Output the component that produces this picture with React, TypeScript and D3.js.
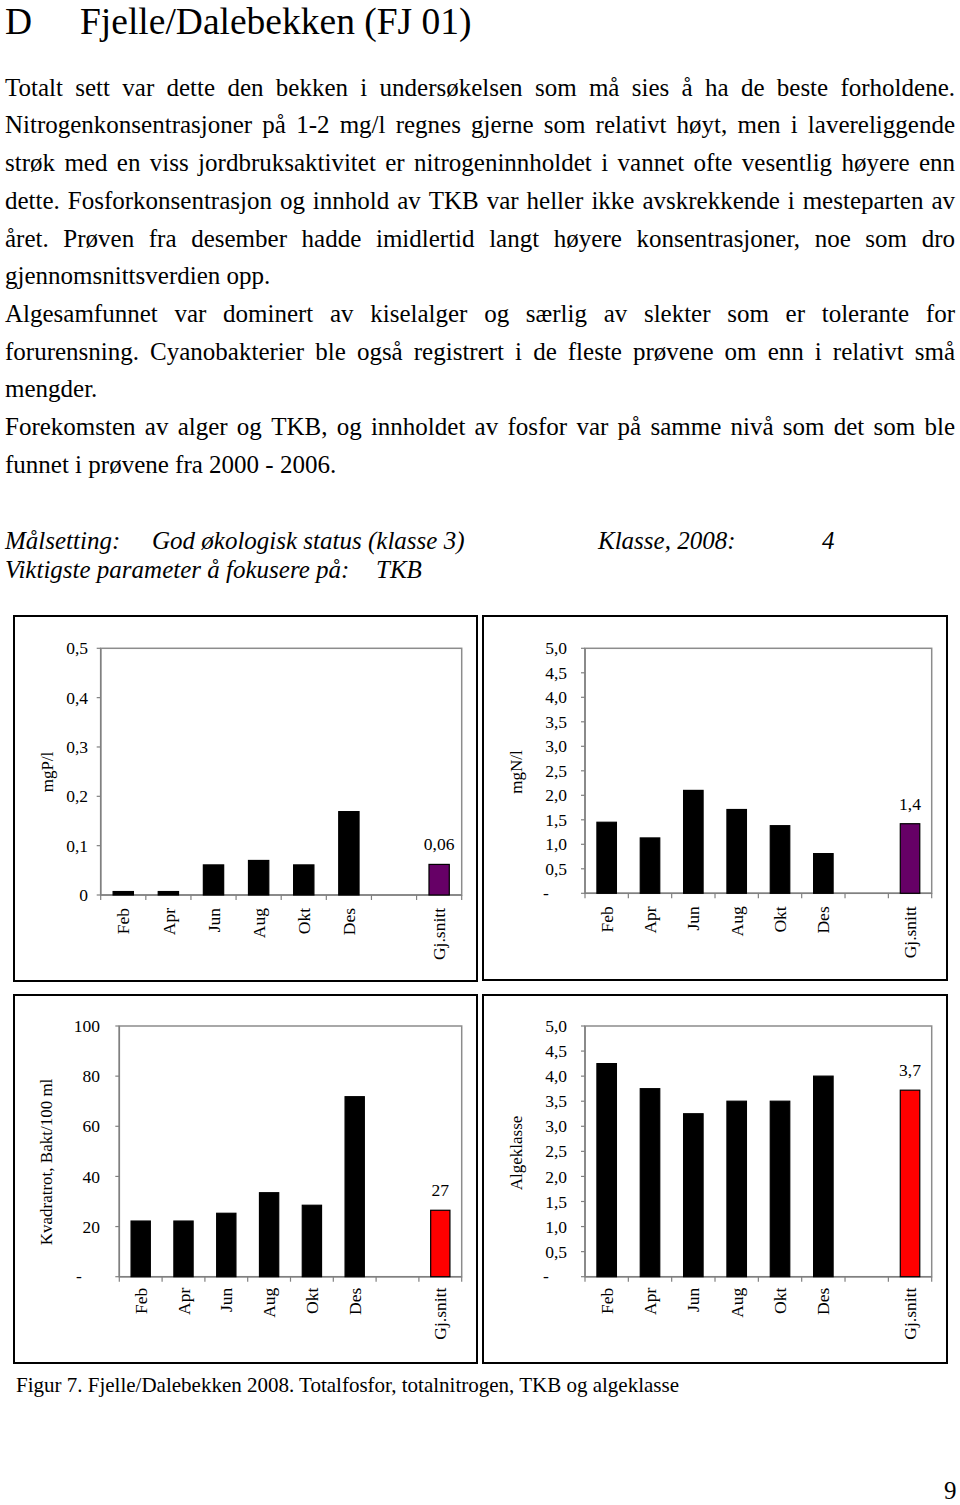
import React from "react";
import * as d3 from "d3";

// ---------------- DATA ----------------
const months = ["Feb", "Apr", "Jun", "Aug", "Okt", "Des"];
const categories = [...months, "", "Gj.snitt"];

const fosforValues = [0.007, 0.007, 0.061, 0.07, 0.061, 0.169];
const fosforMean = 0.062;
const fosforMeanLabel = "0,06";
const fosforTicks = [0, 0.1, 0.2, 0.3, 0.4, 0.5];

const nitrogenValues = [1.45, 1.13, 2.1, 1.71, 1.38, 0.81];
const nitrogenMean = 1.42;
const nitrogenMeanLabel = "1,4";
const nitrogenTicks = [0, 0.5, 1, 1.5, 2, 2.5, 3, 3.5, 4, 4.5, 5];

const tkbValues = [22.2, 22.2, 25.3, 33.5, 28.5, 71.8];
const tkbMean = 26.5;
const tkbMeanLabel = "27";
const tkbTicks = [0, 20, 40, 60, 80, 100];

const algeValues = [4.25, 3.75, 3.25, 3.5, 3.5, 4.0];
const algeMean = 3.72;
const algeMeanLabel = "3,7";
const algeTicks = [0, 0.5, 1, 1.5, 2, 2.5, 3, 3.5, 4, 4.5, 5];

const titleLetter = "D";
const titleText = "Fjelle/Dalebekken (FJ 01)";

const paragraphLines: [string, boolean][] = [
  ["Totalt sett var dette den bekken i undersøkelsen som må sies å ha de beste forholdene.", true],
  ["Nitrogenkonsentrasjoner på 1-2 mg/l regnes gjerne som relativt høyt, men i lavereliggende", true],
  ["strøk med en viss jordbruksaktivitet er nitrogeninnholdet i vannet ofte vesentlig høyere enn", true],
  ["dette. Fosforkonsentrasjon og innhold av TKB var heller ikke avskrekkende i mesteparten av", true],
  ["året. Prøven fra desember hadde imidlertid langt høyere konsentrasjoner, noe som dro", true],
  ["gjennomsnittsverdien opp.", false],
  ["Algesamfunnet var dominert av kiselalger og særlig av slekter som er tolerante for", true],
  ["forurensning. Cyanobakterier ble også registrert i de fleste prøvene om enn i relativt små", true],
  ["mengder.", false],
  ["Forekomsten av alger og TKB, og innholdet av fosfor var på samme nivå som det som ble", true],
  ["funnet i prøvene fra 2000 - 2006.", false],
];

const caption = "Figur 7. Fjelle/Dalebekken 2008. Totalfosfor, totalnitrogen, TKB og algeklasse";

// ---------------- STYLE ----------------
const FONT = "'Liberation Serif', 'Times New Roman', serif";
const BODY_SIZE = 25;
const AXIS_SIZE = 17.5;

let measureCtx: CanvasRenderingContext2D | null = null;
function measure(text: string, font: string): number {
  if (!measureCtx) {
    const c = document.createElement("canvas");
    measureCtx = c.getContext("2d");
  }
  if (!measureCtx) return text.length * 10;
  measureCtx.font = font;
  return measureCtx.measureText(text).width;
}

function JustifiedLine({ text, x, y, width, justify }: { text: string; x: number; y: number; width: number; justify: boolean }) {
  if (!justify) {
    return (
      <text x={x} y={y} fontFamily={FONT} fontSize={BODY_SIZE} fill="#000">
        {text}
      </text>
    );
  }
  const font = `${BODY_SIZE}px 'Liberation Serif'`;
  const words = text.split(" ");
  const widths = words.map((w) => measure(w, font));
  const total = d3.sum(widths);
  const gap = (width - total) / (words.length - 1);
  let cx = x;
  const items = words.map((w, i) => {
    const px = cx;
    cx += widths[i] + gap;
    return (
      <text key={i} x={px} y={y} fontFamily={FONT} fontSize={BODY_SIZE} fill="#000">
        {w}
      </text>
    );
  });
  return <g>{items}</g>;
}

type Layout = {
  frame: { x: number; y: number; w: number; h: number };
  plot: { l: number; r: number; t: number; b: number };
  labelRight: number;
  catOffset: number;
  title: string;
  titleX: number;
  titleY: number;
};

function BarChart({
  layout,
  values,
  mean,
  meanLabel,
  meanColor,
  ticks,
  fmt,
}: {
  layout: Layout;
  values: number[];
  mean: number;
  meanLabel: string;
  meanColor: string;
  ticks: number[];
  fmt: (v: number) => string;
}) {
  const { frame, plot } = layout;
  const pad = 0.55;
  const x = d3
    .scaleBand<string>()
    .domain(categories.map((c, i) => c + "#" + i))
    .range([plot.l, plot.r])
    .paddingInner(pad)
    .paddingOuter(pad / 2);
  const yMax = ticks[ticks.length - 1];
  const y = d3.scaleLinear().domain([0, yMax]).range([plot.b, plot.t]);
  const step = x.step();
  const bars = categories.map((c, i) => {
    let v: number | null = null;
    if (i < values.length) v = values[i];
    else if (c === "Gj.snitt") v = mean;
    return { key: c + "#" + i, cat: c, v, mean: c === "Gj.snitt" };
  });
  const boundaries = d3.range(categories.length + 1).map((i) => plot.l + i * step);
  return (
    <g>
      <rect x={frame.x} y={frame.y} width={frame.w} height={frame.h} fill="#fff" stroke="#000" strokeWidth={2} />
      <rect x={plot.l} y={plot.t} width={plot.r - plot.l} height={plot.b - plot.t} fill="none" stroke="#8c8c8c" strokeWidth={1.5} />
      {ticks.map((t, i) => (
        <g key={i}>
          <line x1={plot.l - 4} x2={plot.l} y1={y(t)} y2={y(t)} stroke="#808080" strokeWidth={1.2} />
          {t === 0 && fmt(t) === "-" ? (
            <text x={layout.labelRight - 24} y={y(t)} dy="0.32em" fontFamily={FONT} fontSize={AXIS_SIZE} textAnchor="start">
              -
            </text>
          ) : (
            <text x={layout.labelRight} y={y(t)} dy="0.35em" fontFamily={FONT} fontSize={AXIS_SIZE} textAnchor="end">
              {fmt(t)}
            </text>
          )}
        </g>
      ))}
      {boundaries.map((bx, i) => (
        <line key={i} x1={bx} x2={bx} y1={plot.b} y2={plot.b + 5} stroke="#808080" strokeWidth={1.2} />
      ))}
      <line x1={plot.l} x2={plot.l} y1={plot.t} y2={plot.b} stroke="#808080" strokeWidth={1.5} />
      <line x1={plot.l} x2={plot.r} y1={plot.b} y2={plot.b} stroke="#808080" strokeWidth={1.5} />
      {bars.map((b) =>
        b.v === null ? null : (
          <rect
            key={b.key}
            x={x(b.key)}
            y={y(b.v)}
            width={x.bandwidth()}
            height={plot.b - y(b.v)}
            fill={b.mean ? meanColor : "#000"}
            stroke="#000"
            strokeWidth={1.2}
          />
        )
      )}
      {bars
        .filter((b) => b.mean && b.v !== null)
        .map((b) => (
          <text
            key="ml"
            x={(x(b.key) as number) + x.bandwidth() / 2}
            y={y(b.v as number) - 14}
            fontFamily={FONT}
            fontSize={AXIS_SIZE}
            textAnchor="middle"
          >
            {meanLabel}
          </text>
        ))}
      {bars
        .filter((b) => b.cat !== "")
        .map((b) => {
          const cx = (x(b.key) as number) + x.bandwidth() / 2;
          const cy = plot.b + layout.catOffset;
          return (
            <text
              key={"c" + b.key}
              transform={`translate(${cx},${cy}) rotate(-90)`}
              dy="0.35em"
              fontFamily={FONT}
              fontSize={AXIS_SIZE}
              textAnchor="end"
            >
              {b.cat}
            </text>
          );
        })}
      <text
        transform={`translate(${layout.titleX},${layout.titleY}) rotate(-90)`}
        dy="0.35em"
        fontFamily={FONT}
        fontSize={17}
        textAnchor="middle"
      >
        {layout.title}
      </text>
    </g>
  );
}

const comma1 = (v: number) => v.toFixed(1).replace(".", ",");
const fmtP = (v: number) => (v === 0 ? "0" : comma1(v));
const fmtDash1 = (v: number) => (v === 0 ? "-" : comma1(v));
const fmtDashInt = (v: number) => (v === 0 ? "-" : String(v));

const L1: Layout = {
  frame: { x: 14, y: 616, w: 463, h: 365 },
  plot: { l: 100.7, r: 461.7, t: 648.3, b: 895 },
  labelRight: 88,
  catOffset: 13,
  title: "mgP/l",
  titleX: 47,
  titleY: 772,
};
const L2: Layout = {
  frame: { x: 483, y: 616, w: 464, h: 364 },
  plot: { l: 585, r: 931.7, t: 648.3, b: 893.3 },
  labelRight: 567,
  catOffset: 13,
  title: "mgN/l",
  titleX: 516,
  titleY: 772,
};
const L3: Layout = {
  frame: { x: 14, y: 995, w: 463, h: 368 },
  plot: { l: 119.3, r: 461.7, t: 1026, b: 1276.7 },
  labelRight: 100,
  catOffset: 11,
  title: "Kvadratrot, Bakt/100 ml",
  titleX: 46,
  titleY: 1162,
};
const L4: Layout = {
  frame: { x: 483, y: 995, w: 464, h: 368 },
  plot: { l: 585, r: 931.7, t: 1026, b: 1276.7 },
  labelRight: 567,
  catOffset: 11,
  title: "Algeklasse",
  titleX: 516,
  titleY: 1153,
};

export default function App() {
  return (
    <svg
      width={960}
      height={1505}
      viewBox="0 0 960 1505"
      style={{ position: "absolute", left: 0, top: 0, display: "block", background: "#fff" }}
    >
      <rect x={0} y={0} width={960} height={1505} fill="#fff" />
      <text x={5} y={33.5} fontFamily={FONT} fontSize={37.5}>
        {titleLetter}
      </text>
      <text x={80} y={33.5} fontFamily={FONT} fontSize={37.5}>
        {titleText}
      </text>
      {paragraphLines.map(([t, j], i) => (
        <JustifiedLine key={i} text={t} x={5} y={95.7 + 37.7 * i} width={950} justify={j} />
      ))}
      <g fontFamily={FONT} fontSize={BODY_SIZE} fontStyle="italic">
        <text x={5} y={549}>Målsetting:</text>
        <text x={152} y={549}>God økologisk status (klasse 3)</text>
        <text x={598} y={549}>Klasse, 2008:</text>
        <text x={822} y={549}>4</text>
        <text x={5} y={578}>Viktigste parameter å fokusere på:</text>
        <text x={376} y={578}>TKB</text>
      </g>
      <BarChart layout={L1} values={fosforValues} mean={fosforMean} meanLabel={fosforMeanLabel} meanColor="#660066" ticks={fosforTicks} fmt={fmtP} />
      <BarChart layout={L2} values={nitrogenValues} mean={nitrogenMean} meanLabel={nitrogenMeanLabel} meanColor="#660066" ticks={nitrogenTicks} fmt={fmtDash1} />
      <BarChart layout={L3} values={tkbValues} mean={tkbMean} meanLabel={tkbMeanLabel} meanColor="#ff0000" ticks={tkbTicks} fmt={fmtDashInt} />
      <BarChart layout={L4} values={algeValues} mean={algeMean} meanLabel={algeMeanLabel} meanColor="#ff0000" ticks={algeTicks} fmt={fmtDash1} />
      <text x={16} y={1392} fontFamily={FONT} fontSize={21}>
        {caption}
      </text>
      <text x={944} y={1499} fontFamily={FONT} fontSize={BODY_SIZE}>
        9
      </text>
    </svg>
  );
}
